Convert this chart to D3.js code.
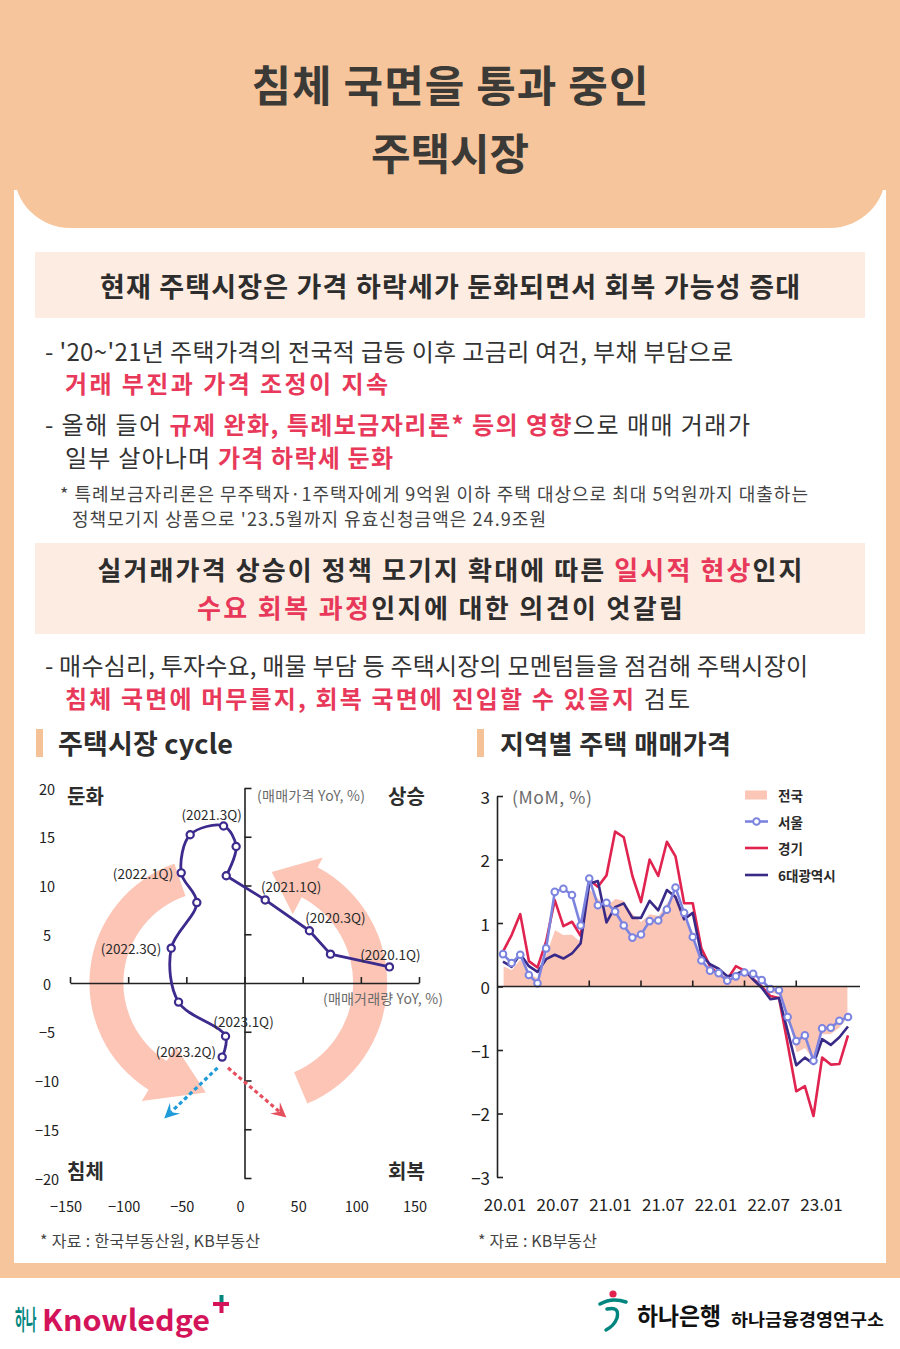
<!DOCTYPE html>
<html><head><meta charset="utf-8">
<script src="https://cdn.jsdelivr.net/npm/d3@7"></script>
<style>
body{margin:0;background:#fff}
svg{display:block}
text{font-family:"Noto Sans CJK KR","Noto Sans",sans-serif}
</style>
</head><body>
<svg id="c" width="900" height="1349"></svg>
<script>
// ---------------- DATA ----------------
// Housing market cycle (quarterly): x = sales volume YoY (%), y = sale price YoY (%)
const quarters = ["2020.1Q","2020.2Q","2020.3Q","2020.4Q","2021.1Q","2021.2Q","2021.3Q","2021.4Q","2022.1Q","2022.2Q","2022.3Q","2022.4Q","2023.1Q","2023.2Q"];
const volumeYoY = [124.6, 73.9, 55.8, 17.8, -15.7, -7.2, -18.0, -46.7, -54.4, -41.0, -63.0, -56.7, -16.3, -19.2];
const priceYoY  = [1.65, 2.96, 5.36, 8.52, 11.0, 14.0, 16.1, 15.2, 11.3, 8.25, 3.57, -1.96, -5.46, -7.6];
const labeledQuarters = ["2020.1Q","2020.3Q","2021.1Q","2021.3Q","2022.1Q","2022.3Q","2023.1Q","2023.2Q"];
const cycleXTicks = [-150, -100, -50, 0, 50, 100, 150];
const cycleYTicks = [20, 15, 10, 5, 0, -5, -10, -15, -20];

// Regional housing prices (monthly MoM, %)
const months = ["20.01","20.02","20.03","20.04","20.05","20.06","20.07","20.08","20.09","20.10","20.11","20.12",
                "21.01","21.02","21.03","21.04","21.05","21.06","21.07","21.08","21.09","21.10","21.11","21.12",
                "22.01","22.02","22.03","22.04","22.05","22.06","22.07","22.08","22.09","22.10","22.11","22.12",
                "23.01","23.02","23.03","23.04","23.05"];
const national = [0.33,0.27,0.44,0.21,0.14,0.52,0.90,0.82,0.83,0.71,1.55,1.40,1.27,1.39,1.36,1.16,1.03,1.15,1.12,1.32,1.48,1.15,0.88,0.45,0.30,0.20,0.12,0.15,0.20,0.15,0.03,-0.10,-0.14,-0.50,-1.05,-0.98,-1.18,-0.76,-0.76,-0.66,-0.50];
const seoul    = [0.51,0.37,0.50,0.18,0.05,0.60,1.49,1.54,1.44,0.96,1.70,1.28,1.32,1.18,0.96,0.77,0.82,1.03,1.04,1.21,1.56,1.16,0.78,0.41,0.25,0.21,0.09,0.16,0.22,0.20,0.10,-0.04,-0.06,-0.48,-0.86,-0.77,-1.17,-0.66,-0.65,-0.54,-0.48];
const gyeonggi = [0.55,0.81,1.14,0.40,0.30,0.71,1.36,0.95,1.02,0.80,1.68,1.57,1.75,2.44,2.35,1.74,1.33,2.00,1.74,2.28,2.05,1.31,1.31,0.60,0.32,0.19,0.11,0.32,0.25,0.12,0.00,-0.15,-0.18,-0.90,-1.65,-1.57,-2.04,-1.12,-1.23,-1.22,-0.77];
const metro6   = [0.39,0.31,0.51,0.32,0.23,0.43,0.50,0.44,0.52,0.68,1.62,1.66,1.01,1.25,1.31,1.08,1.08,1.35,1.20,1.52,1.41,1.06,1.16,0.50,0.35,0.28,0.16,0.19,0.26,0.11,-0.02,-0.20,-0.18,-0.70,-1.24,-1.12,-1.22,-0.83,-0.92,-0.80,-0.63];
const seriesNames = ["전국","서울","경기","6대광역시"];
const monthTickLabels = ["20.01","20.07","21.01","21.07","22.01","22.07","23.01"];
const monthMinorTicks = ["20.11","21.05","21.11","22.05","22.11"];
const momTicks = [3, 2, 1, 0, -1, -2, -3];

// ---------------- STYLE ----------------
const PEACH = "#F7C59B", BOX = "#FDECE1", DARK = "#333333", RED = "#E8395A", NOTE = "#444444";
const C_NAT = "#FCC6B7", C_SEOUL = "#7C84E0", C_GG = "#E0234F", C_METRO = "#3A2A88", C_CYCLE = "#3C2A8C";

const svg = d3.select("#c");

// backgrounds
svg.append("rect").attr("width", 900).attr("height", 1278).attr("fill", PEACH);
svg.append("rect").attr("x", 14).attr("y", 190).attr("width", 872).attr("height", 1073).attr("fill", "#fff");
svg.append("rect").attr("x", 14).attr("y", -80).attr("width", 872).attr("height", 308).attr("rx", 56).attr("fill", PEACH);

function line(x, y, parts, size, anchor, weight, width) {
  const t = svg.append("text").attr("x", x).attr("y", y).attr("font-size", size)
    .attr("text-anchor", anchor || "start").attr("dominant-baseline", "central")
    .attr("font-weight", weight || 400);
  parts.forEach(p => {
    const s = t.append("tspan").text(p[0]).attr("fill", p[1] || DARK);
    if (p[2]) s.attr("font-weight", p[2]);
  });
  if (width) t.attr("textLength", width).attr("lengthAdjust", "spacing");
  return t;
}

// title
line(450, 83, [["침체 국면을 통과 중인", "#3b3a36"]], 43, "middle", 700, 397);
line(450, 151, [["주택시장", "#3b3a36"]], 43, "middle", 700, 158);

// box 1
svg.append("rect").attr("x", 35).attr("y", 252).attr("width", 830).attr("height", 66).attr("fill", BOX);
line(450, 285, [["현재 주택시장은 가격 하락세가 둔화되면서 회복 가능성 증대", "#2d2d2d"]], 27, "middle", 700, 700);

line(45, 350, [["- '20~'21년 주택가격의 전국적 급등 이후 고금리 여건, 부채 부담으로"]], 24, "start", 400, 688);
line(65, 382, [["거래 부진과 가격 조정이 지속", RED, 700]], 24, "start", 400, 323);
line(45, 423, [["- 올해 들어 "], ["규제 완화, 특례보금자리론* 등의 영향", RED, 700], ["으로 매매 거래가"]], 24, "start", 400, 705);
line(65, 456, [["일부 살아나며 "], ["가격 하락세 둔화", RED, 700]], 24, "start", 400, 328);
line(60, 493, [["* 특례보금자리론은 무주택자·1주택자에게 9억원 이하 주택 대상으로 최대 5억원까지 대출하는", NOTE]], 18, "start", 400, 748);
line(72, 518, [["정책모기지 상품으로 '23.5월까지 유효신청금액은 24.9조원", NOTE]], 18, "start", 400, 474);

// box 2
svg.append("rect").attr("x", 35).attr("y", 543).attr("width", 830).attr("height", 91).attr("fill", BOX);
line(450, 568, [["실거래가격 상승이 정책 모기지 확대에 따른 ", "#2d2d2d"], ["일시적 현상", RED], ["인지", "#2d2d2d"]], 26, "middle", 700, 705);
line(440, 606, [["수요 회복 과정", RED], ["인지에 대한 의견이 엇갈림", "#2d2d2d"]], 26, "middle", 700, 486);

line(45, 664, [["- 매수심리, 투자수요, 매물 부담 등 주택시장의 모멘텀들을 점검해 주택시장이"]], 24, "start", 400, 763);
line(65, 697, [["침체 국면에 머무를지, 회복 국면에 진입할 수 있을지", RED, 700], [" 검토"]], 24, "start", 400, 625);

// subtitles
svg.append("rect").attr("x", 36).attr("y", 729).attr("width", 7).attr("height", 28).attr("fill", "#F5C196");
line(58, 742, [["주택시장 cycle", "#2d2d2d"]], 27, "start", 700, 175);
svg.append("rect").attr("x", 477).attr("y", 729).attr("width", 7).attr("height", 28).attr("fill", "#F5C196");
line(500, 742, [["지역별 주택 매매가격", "#2d2d2d"]], 26, "start", 700, 231);

// ================= LEFT: cycle chart =================
const cx = d3.scaleLinear().domain([-150, 150]).range([70, 419]);
const cy = d3.scaleLinear().domain([-20, 20]).range([1178, 788]);
const gL = svg.append("g");

// big circular arrows (decoration)
function bandArrow(center, rIn, rOut, a0, a1, headIn, headOut, tipR, tipA) {
  const rad = d => d * Math.PI / 180;
  const ccw = a1 < a0;
  const p = d3.path();
  const P = (r, a) => [center[0] + r * Math.cos(rad(a)), center[1] + r * Math.sin(rad(a))];
  const s = P(rOut, a0);
  p.moveTo(s[0], s[1]);
  p.arc(center[0], center[1], rOut, rad(a0), rad(a1), ccw);
  let q = P(headOut, a1); p.lineTo(q[0], q[1]);
  q = P(tipR, tipA); p.lineTo(q[0], q[1]);
  q = P(headIn, a1); p.lineTo(q[0], q[1]);
  q = P(rIn, a1); p.lineTo(q[0], q[1]);
  p.arc(center[0], center[1], rIn, rad(a1), rad(a0), !ccw);
  p.closePath();
  return p.toString();
}
gL.append("path").attr("d", bandArrow([cx(-25), cy(0)], 92, 126, 251, 122, 75, 139, 110, 95)).attr("fill", "#FCC5B6");
gL.append("path").attr("d", bandArrow([cx(10), cy(0)], 97, 131, 67, -62, 78, 142, 112, -82)).attr("fill", "#FCC5B6");

// axes
const axX = d3.axisTop(cx).tickValues(cycleXTicks).tickSize(6).tickSizeOuter(0).tickFormat("");
const gx = gL.append("g").attr("transform", `translate(0,${cy(0)})`).call(axX);
const axY = d3.axisRight(cy).tickValues(cycleYTicks.filter(v => v !== 0)).tickSize(7).tickSizeOuter(0).tickFormat("");
const gy = gL.append("g").attr("transform", `translate(${cx(0)},0)`).call(axY);
[gx, gy].forEach(g => { g.selectAll("path,line").attr("stroke", "#222").attr("stroke-width", 1.6); });

gL.selectAll("text.yl").data(cycleYTicks).join("text").attr("class", "yl")
  .attr("x", 47).attr("y", d => cy(d)).attr("text-anchor", "middle").attr("dominant-baseline", "central")
  .attr("font-size", 14.5).attr("fill", "#222").text(d => d < 0 ? "−" + Math.abs(d) : d);
gL.selectAll("text.xl").data(cycleXTicks).join("text").attr("class", "xl")
  .attr("x", d => cx(d) - 4).attr("y", 1205).attr("text-anchor", "middle").attr("dominant-baseline", "central")
  .attr("font-size", 14.5).attr("fill", "#222").text(d => d < 0 ? "−" + Math.abs(d) : d);

line(67, 795, [["둔화", "#2d2d2d"]], 20, "start", 700);
line(388, 795, [["상승", "#2d2d2d"]], 20, "start", 700);
line(67, 1170, [["침체", "#2d2d2d"]], 20, "start", 700);
line(388, 1170, [["회복", "#2d2d2d"]], 20, "start", 700);
line(257, 795, [["(매매가격 YoY, %)", "#6a6a6a"]], 14, "start", 400, 108);
line(323, 998, [["(매매거래량 YoY, %)", "#6a6a6a"]], 14, "start", 400, 120);

// projection dotted arrows (from the last quarter)
const lastIdx = quarters.length - 1;
const outlook = [
  { from: [volumeYoY[lastIdx] - 4, priceYoY[lastIdx] - 1.1], to: [-69, -13.9], color: "#1E9BD8" },
  { from: [volumeYoY[lastIdx] + 5, priceYoY[lastIdx] - 1.1], to: [36, -13.8], color: "#E5505E" }
];
outlook.forEach(o => {
  const x0 = cx(o.from[0]), y0 = cy(o.from[1]), x1 = cx(o.to[0]), y1 = cy(o.to[1]);
  const dx = x1 - x0, dy = y1 - y0, L = Math.hypot(dx, dy), ux = dx / L, uy = dy / L;
  const hl = 15, hw = 7.5;
  const nx = x1 - ux * hl * 0.6, ny = y1 - uy * hl * 0.6;
  gL.append("line").attr("x1", x0).attr("y1", y0).attr("x2", nx).attr("y2", ny)
    .attr("stroke", o.color).attr("stroke-width", 3.2).attr("stroke-dasharray", "4 3");
  const bx = x1 - ux * hl, by = y1 - uy * hl;
  const pts = [[x1, y1], [bx - uy * hw, by + ux * hw], [nx, ny], [bx + uy * hw, by - ux * hw]];
  gL.append("path").attr("d", "M" + pts.map(p => p.join(",")).join("L") + "Z").attr("fill", o.color);
});

// cycle path
const pts = quarters.map((q, i) => [cx(volumeYoY[i]), cy(priceYoY[i])]);
gL.append("path").attr("d", d3.line().curve(d3.curveLinear)(pts.slice(0, 5)))
  .attr("fill", "none").attr("stroke", C_CYCLE).attr("stroke-width", 2.8).attr("stroke-linejoin", "round");
gL.append("path").attr("d", d3.line().curve(d3.curveCatmullRom.alpha(0.5))(pts.slice(4)))
  .attr("fill", "none").attr("stroke", C_CYCLE).attr("stroke-width", 2.8);
gL.selectAll("circle.q").data(pts).join("circle").attr("class", "q")
  .attr("cx", d => d[0]).attr("cy", d => d[1]).attr("r", 3.6)
  .attr("fill", "#fff").attr("stroke", C_CYCLE).attr("stroke-width", 2.2);

// quarter labels
const qLabelPlace = {
  "2020.1Q": [1, -13, "middle"], "2020.3Q": [26, -14, "middle"], "2021.1Q": [65, 10, "middle"],
  "2021.3Q": [-12, -12, "middle"], "2022.1Q": [-8, 0, "end"], "2022.3Q": [-10, 0, "end"],
  "2023.1Q": [18, -15, "middle"], "2023.2Q": [-6, -6, "end"]
};
labeledQuarters.forEach(q => {
  const i = quarters.indexOf(q), o = qLabelPlace[q];
  gL.append("text").attr("x", cx(volumeYoY[i]) + o[0]).attr("y", cy(priceYoY[i]) + o[1])
    .attr("text-anchor", o[2]).attr("dominant-baseline", "central").attr("font-size", 13.5)
    .attr("fill", "#2a2a2a").text("(" + q + ")");
});

line(40, 1240, [["* 자료 : 한국부동산원, KB부동산", NOTE]], 16, "start", 400, 220);

// ================= RIGHT: regional prices =================
const mx = d3.scalePoint().domain(months).range([503, 848]);
const my = d3.scaleLinear().domain([-3, 3]).range([1177, 796]);
const gR = svg.append("g");

const area = d3.area().x((d, i) => mx(months[i])).y0(my(0)).y1(d => my(d)).curve(d3.curveLinear);
gR.append("path").attr("d", area(national)).attr("fill", C_NAT).attr("stroke", "#fff").attr("stroke-width", 1.2);

const ln = d3.line().x((d, i) => mx(months[i])).y(d => my(d));
gR.append("path").attr("d", ln(gyeonggi)).attr("fill", "none").attr("stroke", C_GG).attr("stroke-width", 2.6).attr("stroke-linejoin", "round");
gR.append("path").attr("d", ln(metro6)).attr("fill", "none").attr("stroke", C_METRO).attr("stroke-width", 2.6).attr("stroke-linejoin", "round");
gR.append("path").attr("d", ln(seoul)).attr("fill", "none").attr("stroke", C_SEOUL).attr("stroke-width", 2.6).attr("stroke-linejoin", "round");
gR.selectAll("circle.s").data(seoul).join("circle").attr("class", "s")
  .attr("cx", (d, i) => mx(months[i])).attr("cy", d => my(d)).attr("r", 3.3)
  .attr("fill", "#fff").attr("stroke", C_SEOUL).attr("stroke-width", 2);

// axes
const ayR = d3.axisRight(my).tickValues(momTicks).tickSize(6).tickSizeOuter(0).tickFormat("");
const gyR = gR.append("g").attr("transform", "translate(497,0)").call(ayR);
gyR.selectAll("path,line").attr("stroke", "#222").attr("stroke-width", 1.6);
gR.append("line").attr("x1", 497).attr("x2", 860).attr("y1", my(0)).attr("y2", my(0)).attr("stroke", "#222").attr("stroke-width", 1.6);
gR.selectAll("line.mt").data(monthMinorTicks).join("line").attr("class", "mt")
  .attr("x1", d => mx(d)).attr("x2", d => mx(d)).attr("y1", my(0)).attr("y2", my(0) - 6)
  .attr("stroke", "#222").attr("stroke-width", 1.6);
gR.selectAll("text.yl").data(momTicks).join("text").attr("class", "yl")
  .attr("x", 490).attr("y", d => my(d)).attr("text-anchor", "end").attr("dominant-baseline", "central")
  .attr("font-size", 17).attr("fill", "#222").text(d => d < 0 ? "−" + Math.abs(d) : d);
gR.selectAll("text.xl").data(monthTickLabels).join("text").attr("class", "xl")
  .attr("x", (d, i) => mx(d) + 2 + i).attr("y", 1203).attr("text-anchor", "middle").attr("dominant-baseline", "central")
  .attr("font-size", 17).attr("fill", "#222").text(d => d);
line(512, 796, [["(MoM, %)", "#6a6a6a"]], 17.5, "start", 400, 80);

// legend
const legY = [795, 821.5, 848, 875];
gR.append("rect").attr("x", 745).attr("y", legY[0] - 4.5).attr("width", 22).attr("height", 9).attr("fill", C_NAT);
gR.append("line").attr("x1", 745).attr("x2", 768).attr("y1", legY[1]).attr("y2", legY[1]).attr("stroke", C_SEOUL).attr("stroke-width", 2.6);
gR.append("circle").attr("cx", 756.5).attr("cy", legY[1]).attr("r", 3.3).attr("fill", "#fff").attr("stroke", C_SEOUL).attr("stroke-width", 2);
gR.append("line").attr("x1", 745).attr("x2", 768).attr("y1", legY[2]).attr("y2", legY[2]).attr("stroke", C_GG).attr("stroke-width", 2.6);
gR.append("line").attr("x1", 745).attr("x2", 768).attr("y1", legY[3]).attr("y2", legY[3]).attr("stroke", C_METRO).attr("stroke-width", 2.6);
seriesNames.forEach((n, i) => line(778, legY[i], [[n, "#2a2a2a"]], 13.5, "start", 700));

line(478, 1240, [["* 자료 : KB부동산", NOTE]], 16, "start", 400, 119);

// ================= FOOTER =================
svg.append("text").attr("transform", "translate(15,1318) scale(0.43,1)").attr("dominant-baseline", "central").attr("font-size", 27)
  .attr("font-weight", 700).attr("fill", "#00857F").text("하나");
svg.append("text").attr("x", 42).attr("y", 1318).attr("dominant-baseline", "central").attr("font-size", 29)
  .attr("font-family", "Roboto, 'Noto Sans', sans-serif").attr("font-weight", 700).attr("fill", "#D4145A")
  .attr("textLength", 168).attr("lengthAdjust", "spacingAndGlyphs").text("Knowledge");
svg.append("rect").attr("x", 219.5).attr("y", 1295).attr("width", 4).attr("height", 8).attr("fill", "#00857F");
svg.append("rect").attr("x", 213).attr("y", 1302).attr("width", 16).attr("height", 4).attr("fill", "#D4145A");
svg.append("rect").attr("x", 219.5).attr("y", 1306).attr("width", 4).attr("height", 7).attr("fill", "#D4145A");

// Hana bank symbol
svg.append("circle").attr("cx", 613).attr("cy", 1294).attr("r", 3.6).attr("fill", "#E0234F");
svg.append("path").attr("d", "M600,1304 Q612,1297 626,1302").attr("fill", "none").attr("stroke", "#00857F").attr("stroke-width", 3.5).attr("stroke-linecap", "round");
svg.append("path").attr("d", "M607,1309 Q620,1306 617,1318 Q614,1326 606,1330").attr("fill", "none").attr("stroke", "#00857F").attr("stroke-width", 3.5).attr("stroke-linecap", "round");
svg.append("text").attr("x", 637).attr("y", 1314).attr("dominant-baseline", "central").attr("font-size", 24)
  .attr("font-weight", 700).attr("fill", "#111").attr("textLength", 84).attr("lengthAdjust", "spacingAndGlyphs").text("하나은행");
svg.append("text").attr("x", 731).attr("y", 1318).attr("dominant-baseline", "central").attr("font-size", 17)
  .attr("font-weight", 700).attr("fill", "#111").attr("textLength", 153).attr("lengthAdjust", "spacingAndGlyphs").text("하나금융경영연구소");
</script>
</body></html>
